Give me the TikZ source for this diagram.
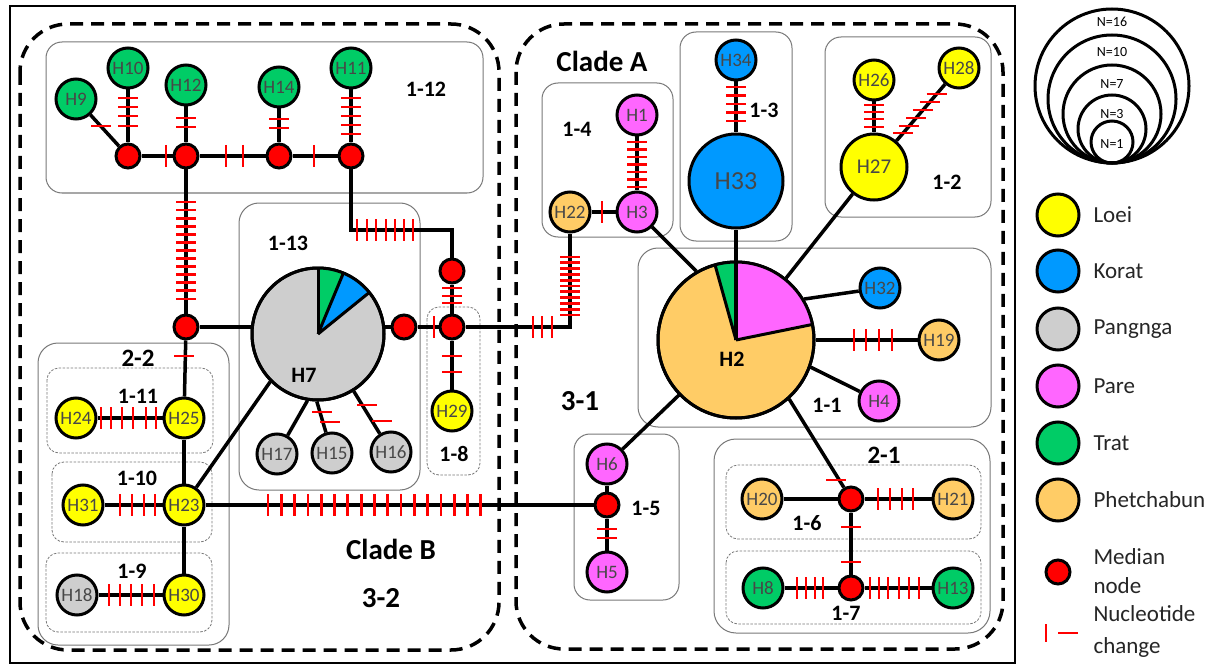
\documentclass[tikz,border=0pt]{standalone}
\usepackage{fontspec}
\setmainfont{Carlito}
\pgfdeclarelayer{bg}
\pgfdeclarelayer{lines}
\pgfsetlayers{bg,lines,main}
\definecolor{loei}{RGB}{255,255,0}
\definecolor{korat}{RGB}{0,153,255}
\definecolor{pangnga}{RGB}{206,206,206}
\definecolor{pare}{RGB}{255,102,255}
\definecolor{trat}{RGB}{0,204,102}
\definecolor{phet}{RGB}{255,204,102}
\definecolor{boxgray}{RGB}{120,120,120}
\newcommand\htk[2]{\draw[tk] ({#1-10},{#2}) -- ({#1+10},{#2});}
\newcommand\vtk[2]{\draw[tk] ({#1},{#2-11}) -- ({#1},{#2+11});}
\begin{document}
\begin{tikzpicture}[x=1pt,y=-1pt,
  hap/.style={circle, draw=black, line width=3pt, minimum size=40pt, inner sep=0pt,
    font=\fontsize{19}{19}\selectfont, text=black!72},
  med/.style={circle, draw=black, fill=red, line width=3pt, minimum size=24pt, inner sep=0pt},
  conn/.style={line width=3.5pt, black},
  tk/.style={red, line width=2.8pt},
  grp/.style={draw=boxgray, line width=1pt, rounded corners=16pt},
  subgrp/.style={draw=boxgray, line width=0.8pt, dash pattern=on 2.5pt off 1.5pt, rounded corners=12pt},
  clade/.style={draw=black, line width=3.5pt, dash pattern=on 13pt off 8pt, rounded corners=48pt},
  glab/.style={font=\bfseries\fontsize{22}{22}\selectfont},
  glabB/.style={font=\bfseries\fontsize{25}{25}\selectfont},
  glabC/.style={font=\bfseries\fontsize{29}{29}\selectfont},
  leg/.style={anchor=west, font=\fontsize{23}{23}\selectfont, text=black!85},
  nlab/.style={font=\fontsize{14}{14}\selectfont},
  sizec/.style={circle, draw=black, line width=3pt, inner sep=0pt}
]
\useasboundingbox (0,0) rectangle (1216,666);

% ---------- nodes: clade B ----------
\node[hap, fill=trat] (H9)  at (76,99)  {H9};
\node[hap, fill=trat] (H10) at (128,68) {H10};
\node[hap, fill=trat] (H12) at (186,85) {H12};
\node[hap, fill=trat] (H14) at (279,87) {H14};
\node[hap, fill=trat] (H11) at (351,68) {H11};
\node[med] (m1) at (128,156) {};
\node[med] (m2) at (186,156) {};
\node[med] (m3) at (279,156) {};
\node[med] (m4) at (351,156) {};
\node[med] (m5) at (186,327) {};
\node[med] (m6) at (452,271) {};
\node[med] (m7) at (452,327) {};
\node[med] (m8) at (404,327) {};
\coordinate (c1) at (351,230);
\node[hap, fill=pangnga, minimum size=132pt] (H7) at (318,334) {};
\node[hap, fill=pangnga] (H17) at (277,454) {H17};
\node[hap, fill=pangnga] (H15) at (332,453) {H15};
\node[hap, fill=pangnga] (H16) at (391,452) {H16};
\node[hap, fill=loei] (H29) at (452,411) {H29};
\node[hap, fill=loei] (H24) at (76,418)  {H24};
\node[hap, fill=loei] (H25) at (184,418) {H25};
\node[hap, fill=loei] (H31) at (83,505)  {H31};
\node[hap, fill=loei] (H23) at (184,505) {H23};
\node[hap, fill=pangnga] (H18) at (77,595) {H18};
\node[hap, fill=loei] (H30) at (184,595) {H30};

% ---------- nodes: clade A ----------
\node[hap, fill=pare] (H1) at (637,115) {H1};
\node[hap, fill=pare] (H3) at (637,212) {H3};
\node[hap, fill=phet] (H22) at (570,212) {H22};
\node[hap, fill=korat] (H34) at (736,60) {H34};
\node[hap, fill=korat, minimum size=94pt, font=\fontsize{26}{26}\selectfont] (H33) at (736,181) {H33};
\node[hap, fill=loei] (H26) at (874,80) {H26};
\node[hap, fill=loei] (H28) at (959,68) {H28};
\node[hap, fill=loei, minimum size=66pt, font=\fontsize{21}{21}\selectfont] (H27) at (874,167) {H27};
\node[hap, fill=phet, minimum size=156pt] (H2) at (736,340) {};
\node[hap, fill=korat] (H32) at (880,288) {H32};
\node[hap, fill=phet] (H19) at (939,340) {H19};
\node[hap, fill=pare] (H4) at (879,401) {H4};
\node[hap, fill=pare] (H6) at (607,464) {H6};
\node[med] (m9) at (607,505) {};
\node[hap, fill=pare] (H5) at (607,572) {H5};
\node[med] (m10) at (851,499) {};
\node[hap, fill=phet] (H20) at (762,499) {H20};
\node[hap, fill=phet] (H21) at (953,499) {H21};
\node[med] (m11) at (851,588) {};
\node[hap, fill=trat] (H8) at (763,588) {H8};
\node[hap, fill=trat] (H13) at (953,588) {H13};

% ---------- pie slices ----------
\fill[trat] (H7.center) -- ++(90:66pt) arc[start angle=90, end angle=67.4, radius=66pt] -- cycle;
\fill[korat] (H7.center) -- ++(67.4:66pt) arc[start angle=67.4, end angle=39, radius=66pt] -- cycle;
\foreach \a in {90,67.4,39} \draw[line width=3pt] (H7.center) -- ++(\a:66pt);
\draw[line width=3pt] (H7.center) circle[radius=66pt];
\fill[pare] (H2.center) -- ++(90:78pt) arc[start angle=90, end angle=11.5, radius=78pt] -- cycle;
\fill[trat] (H2.center) -- ++(105.6:78pt) arc[start angle=105.6, end angle=90, radius=78pt] -- cycle;
\foreach \a in {105.6,11.5} \draw[line width=3pt] (H2.center) -- ++(\a:78pt);
\draw[line width=4pt] (H2.center) -- ++(90:78pt);
\draw[line width=3pt] (H2.center) circle[radius=78pt];
\node[glab] (H7lab) at (304,375) {H7};
\node[glab] (H2lab) at (732,359) {H2};

% ---------- background: frame, clades, groups ----------
\begin{pgfonlayer}{bg}
\fill[white] (0,0) rectangle (1216,666);
\draw[line width=2.8pt] (10,6) rectangle (1015,663);
\draw[clade] (20,24) rectangle (499,650);
\draw[clade] (516,24) rectangle (1003,649);
\draw[grp] (46,42) rectangle (483,193);
\draw[grp, rounded corners=20pt] (239,203) rectangle (420,490);
\draw[subgrp] (427,307) rectangle (480,475);
\draw[grp, rounded corners=20pt] (38,343) rectangle (229,645);
\draw[subgrp] (47,368) rectangle (213,453);
\draw[subgrp] (52,462) rectangle (212,542);
\draw[subgrp] (46,553) rectangle (212,632);
\draw[grp] (542,83) rectangle (673,237);
\draw[grp] (680,32) rectangle (792,241);
\draw[grp] (825,37) rectangle (991,217);
\draw[grp, rounded corners=20pt] (638,248) rectangle (991,427);
\draw[grp] (574,434) rectangle (679,600);
\draw[grp, rounded corners=22pt] (714,439) rectangle (990,633);
\draw[subgrp] (726,465) rectangle (981,539);
\draw[subgrp] (726,551) rectangle (981,624);
\end{pgfonlayer}

% ---------- connectors and ticks ----------
\begin{pgfonlayer}{lines}
\draw[conn] (H9) -- (m1);
\draw[conn] (H10) -- (m1);
\draw[conn] (H12) -- (m2);
\draw[conn] (H14) -- (m3);
\draw[conn] (H11) -- (m4);
\draw[conn] (m1) -- (m2) -- (m3) -- (m4);
\draw[conn] (m2) -- (m5);
\draw[conn] (m4) -- (c1) -| (m6);
\draw[conn] (m6) -- (m7);
\draw[conn] (m8) -- (m7);
\draw[conn] (m8) -- (m8 -| H7);
\draw[conn] (m5) -- (m5 -| H7);
\draw[conn] (m7) -- (H29);
\draw[conn] (m7) -| (H22);
\draw[conn] (H22) -- (H3);
\draw[conn] (H1) -- (H3);
\draw[conn] (H7.261) -- (H17);
\draw[conn] (H7.269) -- (H15);
\draw[conn] (H7.302) -- (H16);
\draw[conn] (H7.225) -- (H23);
\draw[conn] (m5) -- (H25);
\draw[conn] (H24) -- (H25);
\draw[conn] (H25) -- (H23);
\draw[conn] (H31) -- (H23);
\draw[conn] (H23) -- (H30);
\draw[conn] (H18) -- (H30);
\draw[conn] (H23) -- (m9);
\draw[conn] (H34) -- (H33);
\draw[conn] (H33) -- (H2.center);
\draw[conn] (H26) -- (H27);
\draw[conn] (H28) -- (H27);
\draw[conn] (H3) -- (H2.120);
\draw[conn] (H27) -- (H2.51);
\draw[conn] (H2.31) -- (H32);
\draw[conn] (H2.0) -- (H19);
\draw[conn] (H2.-20) -- (H4);
\draw[conn] (H2.-48) -- (m10);
\draw[conn] (H2.224) -- (H6);
\draw[conn] (H6) -- (m9);
\draw[conn] (m9) -- (H5);
\draw[conn] (H20) -- (m10);
\draw[conn] (m10) -- (H21);
\draw[conn] (m10) -- (m11);
\draw[conn] (H8) -- (m11);
\draw[conn] (m11) -- (H13);
% ticks on vertical-ish lines
\htk{101}{126}
\foreach \y in {98,107,116,126} {\htk{128}{\y}}
\foreach \y in {118,127} {\htk{186}{\y}}
\foreach \y in {119,128} {\htk{279}{\y}}
\foreach \y in {98,107,116,125,134} {\htk{351}{\y}}
\foreach \i in {0,...,12} {\htk{186}{202+\i*8.08}}
\foreach \y in {288,296,303} {\htk{452}{\y}}
\foreach \y in {356,372} {\htk{452}{\y}}
\htk{322}{412}
\htk{330}{422}
\htk{367}{405}
\htk{382}{421}
\htk{184}{356}
\foreach \i in {0,...,6} {\htk{637}{142+\i*7.5}}
\foreach \i in {0,...,4} {\htk{736}{87+\i*8.5}}
\foreach \y in {105,112,119,127} {\htk{874}{\y}}
\foreach \y in {94,102,110,118,126,133} {\htk{959-(\y-68)*0.8586}{\y}}
\foreach \i in {0,...,10} {\htk{570}{257+\i*5.8}}
\htk{836}{480}
\foreach \y in {529,538} {\htk{607}{\y}}
\foreach \y in {527,562} {\htk{851}{\y}}
% ticks on horizontal lines
\vtk{166}{156}
\foreach \x in {226,243} {\vtk{\x}{156}}
\vtk{314}{156}
\foreach \x in {357,367,376,386,395,404,413} {\vtk{\x}{230}}
\vtk{434}{327}
\foreach \x in {533,542,552} {\vtk{\x}{327}}
\vtk{602}{212}
\foreach \x in {101,111,122,133,146,156} {\vtk{\x}{418}}
\foreach \x in {120,132,144,155} {\vtk{\x}{505}}
\foreach \x in {109,120,131,142,154} {\vtk{\x}{595}}
\foreach \i in {0,...,16} {\vtk{268+\i*13.3}{505}}
\foreach \x in {854,866,879,892} {\vtk{\x}{340}}
\foreach \x in {878,890,902,913} {\vtk{\x}{499}}
\foreach \x in {797,806,815,823} {\vtk{\x}{588}}
\foreach \x in {870,879,888,899,909,919} {\vtk{\x}{588}}
\end{pgfonlayer}

% ---------- group labels ----------
\node[glab] (L112) at (426,89) {1-12};
\node[glab] (L113) at (288,243) {1-13};
\node[glab] (L18) at (454,454) {1-8};
\node[glabB] (L22) at (138,358) {2-2};
\node[glab] (L111) at (138,396) {1-11};
\node[glab] (L110) at (137,478) {1-10};
\node[glab] (L19) at (132,571) {1-9};
\node[glab] (L14) at (577,129) {1-4};
\node[glab] (L13) at (764,110) {1-3};
\node[glab] (L12) at (947,182) {1-2};
\node[glab] (L11) at (827,405) {1-1};
\node[glab] (L15) at (646,508) {1-5};
\node[glabB] (L21) at (884,455) {2-1};
\node[glab] (L16) at (807,523) {1-6};
\node[glab] (L17) at (846,613) {1-7};
\node[glabC] (CA) at (602,61) {Clade A};
\node[glabC] (C31) at (580,401) {3-1};
\node[glabC] (CB) at (391,549) {Clade B};
\node[glabC] (C32) at (381,598) {3-2};

% ---------- legend ----------
\node[sizec, minimum size=154pt] (n16) at (1112,86) {};
\node[sizec, minimum size=128pt] (n10) at (1112,99) {};
\node[sizec, minimum size=98pt] (n7) at (1112,114) {};
\node[sizec, minimum size=68pt] (n3) at (1112,129) {};
\node[sizec, minimum size=42pt] (n1) at (1112,142) {};
\node[nlab] (t16) at (1112,22) {N=16};
\node[nlab] (t10) at (1112,52) {N=10};
\node[nlab] (t7) at (1112,84) {N=7};
\node[nlab] (t3) at (1112,114) {N=3};
\node[nlab] (t1) at (1112,144) {N=1};
\node[hap, fill=loei, minimum size=42pt] (gLoei) at (1058,215) {};
\node[leg] (tLoei) at (1090,215) {Loei};
\node[hap, fill=korat, minimum size=42pt] (gKorat) at (1058,271) {};
\node[leg] (tKorat) at (1090,271) {Korat};
\node[hap, fill=pangnga, minimum size=42pt] (gPang) at (1058,329) {};
\node[leg] (tPang) at (1090,329) {Pangnga};
\node[hap, fill=pare, minimum size=42pt] (gPare) at (1058,386) {};
\node[leg] (tPare) at (1090,386) {Pare};
\node[hap, fill=trat, minimum size=42pt] (gTrat) at (1058,443) {};
\node[leg] (tTrat) at (1090,443) {Trat};
\node[hap, fill=phet, minimum size=42pt] (gPhet) at (1058,500) {};
\node[leg] (tPhet) at (1090,500) {Phetchabun};
\node[med] (gMed) at (1058,572) {};
\node[leg] (tMed1) at (1090,557) {Median};
\node[leg] (tMed2) at (1090,586) {node};
\coordinate (tkA1) at (1046,624);
\coordinate (tkA2) at (1046,642);
\coordinate (tkB1) at (1058,633);
\coordinate (tkB2) at (1078,633);
\draw[tk] (tkA1) -- (tkA2);
\draw[tk] (tkB1) -- (tkB2);
\node[leg] (tNuc1) at (1090,614) {Nucleotide};
\node[leg] (tNuc2) at (1090,647) {change};
\end{tikzpicture}
\end{document}
